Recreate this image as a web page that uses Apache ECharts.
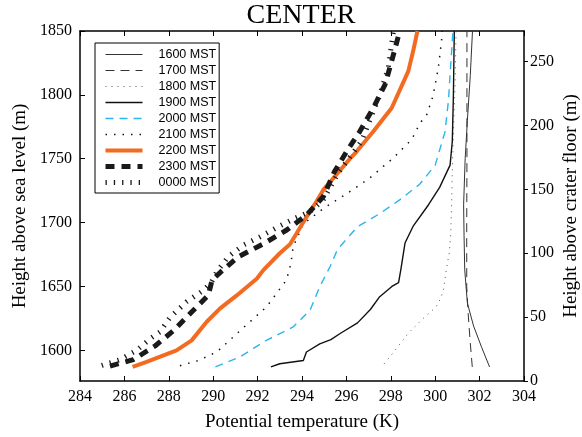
<!DOCTYPE html>
<html>
<head>
<meta charset="utf-8">
<script src="https://cdn.jsdelivr.net/npm/echarts@6/dist/echarts.min.js"></script>
<style>html,body{margin:0;padding:0;background:#fff;}#c{width:582px;height:437px;}</style>
</head>
<body>
<div id="c"></div>
<script>
// ---- Data (potential temperature K vs height above sea level m) ----
const heightTicks = [1600, 1650, 1700, 1750, 1800, 1850];
const floorTicks = [0, 50, 100, 150, 200, 250];
const craterFloor = 1576;

const t1600 = [302.45, 302.1, 301.73, 301.45, 301.33, 301.3, 301.28, 301.35, 301.45, 301.58, 301.68];
const h1600 = [1587, 1602, 1619, 1637, 1663, 1690, 1714, 1750, 1780, 1815, 1850];

const t1700 = [301.67, 301.57, 301.48, 301.42, 301.42, 301.43, 301.43, 301.43];
const h1700 = [1587, 1608, 1630, 1650, 1700, 1750, 1800, 1850];

const t1800 = [297.7, 298.1, 298.54, 298.8, 299.1, 299.4, 299.7, 300.04, 300.25, 300.37, 300.5, 300.64, 300.7, 300.74, 300.77, 300.82, 300.9, 300.94];
const h1800 = [1589.5, 1598, 1607.8, 1613.6, 1618.8, 1624, 1628.8, 1634, 1640.8, 1647, 1663, 1677, 1692, 1715, 1740, 1770, 1810, 1850];

const t1900 = [292.6, 293.0, 294.06, 294.2, 294.8, 295.3, 295.7, 296.5, 297.08, 297.5, 298.05, 298.35, 298.45, 298.64, 299.0, 299.7, 300.2, 300.67, 300.77, 300.82, 300.86];
const h1900 = [1587, 1589.5, 1592, 1598.7, 1605, 1608.4, 1613, 1621.5, 1632, 1642, 1650, 1653, 1663, 1684, 1697, 1714, 1727.6, 1745, 1763.5, 1800, 1850];

const t2000 = [290.1, 291.2, 292.4, 293.6, 294.36, 294.8, 295.26, 295.6, 296.5, 297.5, 298.4, 299.3, 300.0, 300.44, 300.6, 300.67, 300.8];
const h2000 = [1587, 1594.8, 1607.9, 1618.3, 1631.4, 1649.7, 1665.4, 1679, 1696.8, 1707, 1717.8, 1730, 1745, 1771, 1796, 1816, 1850];

const t2100 = [288.5, 289.33, 290.16, 291.06, 292.4, 293.3, 293.5, 293.6, 294.06, 294.96, 295.56, 296.31, 297.06, 297.66, 298.11, 298.56, 298.94, 299.32, 299.62, 299.9, 300.14, 300.29, 300.32];
const h2100 = [1588, 1592, 1598.7, 1613, 1634, 1655, 1668, 1681, 1699, 1711, 1717.7, 1726, 1735, 1744, 1750.5, 1758.4, 1765, 1778, 1784.5, 1799, 1821, 1843, 1850];

const t2200 = [286.37, 287.0, 288.35, 289.03, 289.7, 290.3, 291.06, 291.96, 292.26, 293.0, 293.46, 293.76, 294.21, 294.65, 294.96, 295.41, 296.16, 296.46, 297.21, 298.04, 298.79, 299.01, 299.2];
const h2200 = [1587, 1591, 1600, 1607.8, 1622.2, 1632.7, 1643, 1656, 1662.8, 1676, 1683, 1691.6, 1704.6, 1716.5, 1725.6, 1734.7, 1750, 1755.6, 1771.3, 1789.7, 1818.6, 1834.5, 1850];

const t2300 = [285.35, 286.4, 287.38, 288.23, 289.03, 289.78, 289.95, 290.38, 291.13, 292.29, 293.31, 294.21, 294.96, 295.45, 296.01, 296.6, 297.21, 297.74, 298.04, 298.34, 298.4];
const h2300 = [1587.7, 1592.7, 1603.4, 1615.7, 1630, 1643.2, 1655, 1662, 1673.2, 1683.7, 1694.2, 1706, 1720.3, 1739.5, 1755.6, 1771.3, 1789.7, 1808, 1826.4, 1846, 1850];

const t0000 = [284.98, 285.8, 286.55, 287.23, 287.6, 288.05, 288.8, 289.56, 289.93, 290.16, 290.68, 291.06, 291.36, 292.11, 292.93, 293.68, 294.36, 294.96, 295.6, 296.69, 297.51, 297.89, 298.08, 298.12];
const h0000 = [1588.2, 1592.7, 1600, 1610, 1614.4, 1625.7, 1638, 1647, 1653.6, 1661.5, 1673.2, 1678.5, 1682.4, 1688.9, 1696.8, 1703.4, 1708.6, 1717.7, 1738, 1764, 1800, 1821.5, 1845, 1850];

const seriesNames = ['1600 MST', '1700 MST', '1800 MST', '1900 MST', '2000 MST', '2100 MST', '2200 MST', '2300 MST', '0000 MST'];
const temps = [t1600, t1700, t1800, t1900, t2000, t2100, t2200, t2300, t0000];
const heights = [h1600, h1700, h1800, h1900, h2000, h2100, h2200, h2300, h0000];

// ---- Styles ----
const styles = [
  {color: '#333333', width: 1, type: 'solid'},
  {color: '#333333', width: 1, type: [9, 6]},
  {color: '#555555', width: 1, type: [1, 5]},
  {color: '#111111', width: 1.4, type: 'solid'},
  {color: '#2bb5ea', width: 1.4, type: [8, 6]},
  {color: '#111111', width: 1.5, type: [1.5, 7]},
  {color: '#f26b21', width: 4, type: 'solid'},
  {color: '#1a1a1a', width: 5, type: [9, 7]},
  {color: '#1a1a1a', width: 5, type: [1.3, 7]}
];

const serif = 'Liberation Serif';
const series = seriesNames.map((name, i) => ({
  name: name,
  type: 'line',
  xAxisIndex: 0,
  yAxisIndex: 0,
  symbol: 'none',
  smooth: false,
  animation: false,
  lineStyle: {color: styles[i].color, width: styles[i].width, type: styles[i].type, cap: 'butt'},
  itemStyle: {color: styles[i].color},
  data: temps[i].map((t, k) => [t, heights[i][k]])
}));

const legendData = seriesNames.map((name, i) => ({
  name: name,
  itemStyle: {opacity: 0, borderWidth: 0},
  lineStyle: {color: styles[i].color, width: styles[i].width, type: styles[i].type, cap: 'butt'}
}));

const plain = v => String(v);

const chart = echarts.init(document.getElementById('c'), null, {renderer: 'canvas'});
chart.setOption({
  animation: false,
  backgroundColor: '#ffffff',
  title: {
    text: 'CENTER',
    left: 296,
    textAlign: 'center',
    top: -3,
    textStyle: {fontFamily: serif, fontSize: 28, fontWeight: 'normal', color: '#000'}
  },
  legend: {
    orient: 'vertical',
    left: 95,
    top: 43,
    padding: [5, 3, 4, 8],
    itemWidth: 37,
    itemHeight: 10,
    itemGap: 3,
    backgroundColor: '#ffffff',
    borderColor: '#000000',
    borderWidth: 1,
    itemStyle: {opacity: 0, borderWidth: 0},
    data: legendData,
    textStyle: {fontFamily: 'Liberation Sans', fontSize: 12.5, color: '#000', padding: [0, 0, 0, 11]}
  },
  grid: {left: 80, right: 58, top: 31, bottom: 56, containLabel: false, outerBoundsMode: 'none'},
  xAxis: [
    {
      type: 'value', position: 'bottom', min: 284, max: 304, interval: 2,
      name: 'Potential temperature (K)', nameLocation: 'middle', nameGap: 32, nameMoveOverlap: false,
      nameTextStyle: {fontFamily: serif, fontSize: 19, color: '#000'},
      axisLine: {show: true, onZero: false, lineStyle: {color: '#000', width: 1.5}},
      axisTick: {show: true, inside: true, length: 5, lineStyle: {color: '#000', width: 1}},
      axisLabel: {fontFamily: serif, fontSize: 16, color: '#000', margin: 8, formatter: plain},
      splitLine: {show: false}
    },
    {
      type: 'value', position: 'top', min: 284, max: 304, interval: 2,
      axisLine: {show: true, onZero: false, lineStyle: {color: '#000', width: 1.5}},
      axisTick: {show: true, inside: true, length: 5, lineStyle: {color: '#000', width: 1}},
      axisLabel: {show: false},
      splitLine: {show: false}
    }
  ],
  yAxis: [
    {
      type: 'value', position: 'left', min: craterFloor, max: 1850,
      name: 'Height above sea level (m)', nameLocation: 'middle', nameGap: 50, nameRotate: 90, nameMoveOverlap: false,
      nameTextStyle: {fontFamily: serif, fontSize: 19, color: '#000'},
      axisLine: {show: true, onZero: false, lineStyle: {color: '#000', width: 1.5}},
      axisTick: {show: true, inside: true, length: 5, customValues: heightTicks, lineStyle: {color: '#000', width: 1}},
      axisLabel: {fontFamily: serif, fontSize: 16, color: '#000', margin: 8, customValues: heightTicks, formatter: plain},
      splitLine: {show: false}
    },
    {
      type: 'value', position: 'right', min: 0, max: 1850 - craterFloor,
      name: 'Height above crater floor (m)', nameLocation: 'middle', nameGap: 38, nameRotate: 90, nameMoveOverlap: false,
      nameTextStyle: {fontFamily: serif, fontSize: 19, color: '#000'},
      axisLine: {show: true, onZero: false, lineStyle: {color: '#000', width: 1.5}},
      axisTick: {show: true, inside: false, length: 4, customValues: floorTicks, lineStyle: {color: '#000', width: 1}},
      axisLabel: {fontFamily: serif, fontSize: 16, color: '#000', margin: 6, customValues: floorTicks, formatter: plain},
      splitLine: {show: false}
    }
  ],
  series: series
});
</script>
</body>
</html>
